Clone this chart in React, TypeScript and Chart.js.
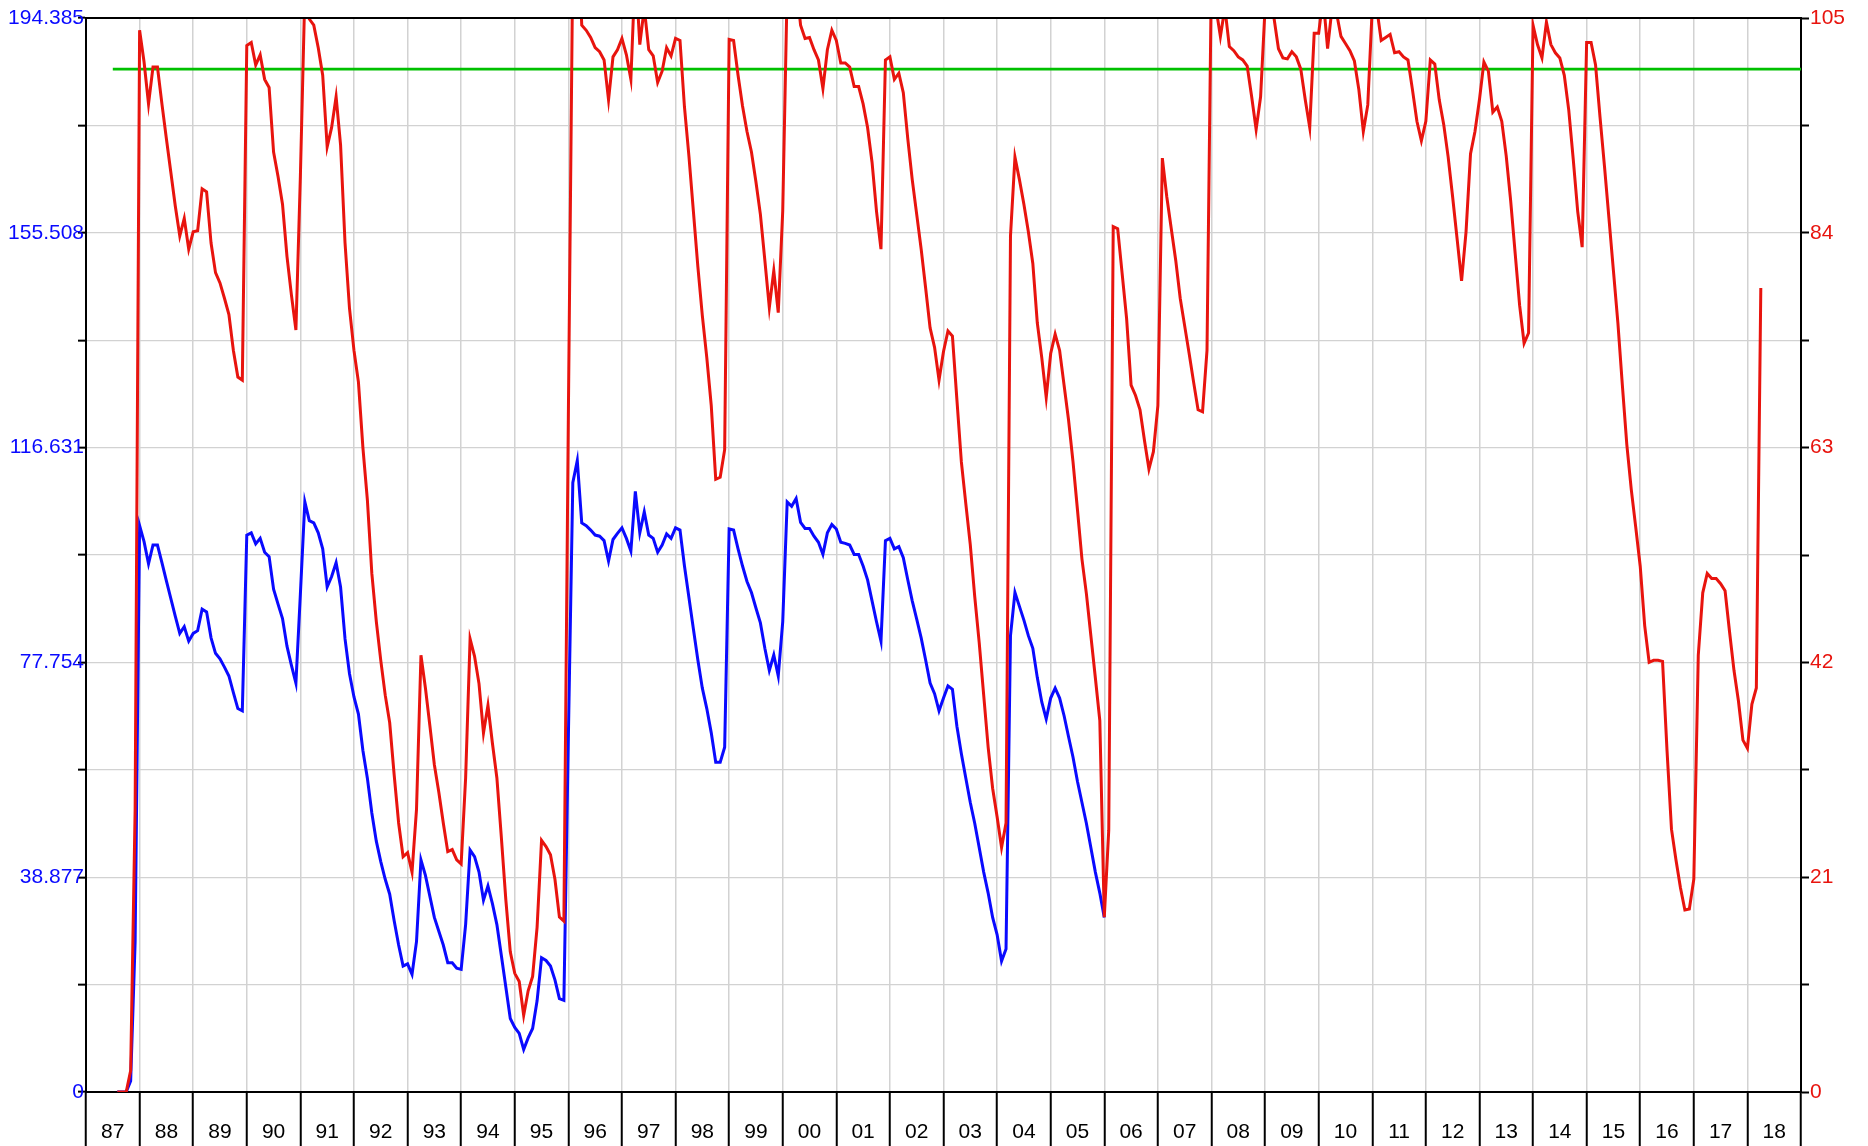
import React, { useEffect, useRef } from 'react';
import { Chart, registerables } from 'chart.js';

Chart.register(...registerables);

// ---------- data ----------
const START_YEAR = 1987;
const START_MONTH = 8; // first monthly value: August 1987

const yearLabels = ['87', '88', '89', '90', '91', '92', '93', '94', '95', '96', '97', '98', '99', '00', '01', '02',
  '03', '04', '05', '06', '07', '08', '09', '10', '11', '12', '13', '14', '15', '16', '17', '18'];
const X_MIN = 1987;
const X_MAX = 2019;

const leftTickLabels = ['0', '38.877', '77.754', '116.631', '155.508', '194.385'];
const rightTickLabels = ['0', '21', '42', '63', '84', '105'];
const LEFT_MAX = 194.385;
const RIGHT_MAX = 105;

const targetLevel = 100;
const targetStart = 1987.5;

// red series (right axis), monthly from Aug 1987
const redValues = [
  0, 0, 0, 2.1, 27.6, 103.8, 100.7, 96.6, 100.2, 100.2,
  96.6, 93.2, 89.9, 86.6,
  83.7, 85.4, 82.4, 84.1, 84.2, 88.3, 88.0, 83.0, 80.1, 79.1, 77.6, 76.0, 72.5, 69.9, 69.6,
  102.3, 102.6, 100.4, 101.4, 99.0, 98.2, 91.9, 89.5, 86.8, 81.7, 77.9, 74.5,
  89.5, 107.5, 104.9, 104.3, 102.1, 99.4, 92.4, 94.3, 97.3, 92.6, 83.0, 76.6,
  72.5, 69.4, 63.0, 57.9, 50.7, 46.0, 42.2, 38.8, 36.1, 31.0, 26.3, 23.0,
  23.4, 21.5, 27.6, 42.7, 39.5, 35.8, 32.0, 29.3, 26.3, 23.5, 23.7, 22.7,
  22.3, 30.7, 44.3, 42.6, 39.9, 35.1, 37.8, 34.1, 30.7, 24.9, 18.8, 13.7,
  11.6, 10.8, 7.5, 9.9, 11.3, 16.1, 24.6, 24.0, 23.2, 20.8, 17.1, 16.7,
  66, 111, 115, 104.3, 103.8, 103.1, 102.1, 101.7, 100.9, 97.0, 101.2, 101.9,
  103.0, 101.4, 99.0, 110, 102.4, 106, 101.9, 101.3, 98.7, 99.8, 102.1, 101.3,
  103.0, 102.8, 96.3, 91.5, 86.1, 80.7, 75.9, 71.8, 67.1, 59.9, 60.1, 62.8,
  102.9, 102.8, 99.4, 96.4, 93.9, 91.9, 89.0, 85.8, 81.3, 76.7, 80.3, 76.2,
  86.1, 108, 107, 108.5, 104.3, 103.0, 103.1, 101.9, 100.9, 98.1, 101.9, 103.8,
  102.8, 100.6, 100.6, 100.2, 98.3, 98.3, 96.6, 94.3, 90.9, 86.1, 82.4, 100.9,
  101.2, 99.0, 99.6, 97.7, 93.2, 89.2, 85.8, 82.4, 78.6, 74.7, 72.8, 69.6,
  72.4, 74.4, 73.9, 67.7, 61.6, 57.5, 53.5, 48.4, 43.9, 38.8, 33.7, 29.7,
  26.9, 23.9, 26.3, 83.7, 91.4, 89.2, 86.8, 84.1, 81.0, 75.2, 71.8, 67.9,
  72.2, 74.1, 72.5, 69.1, 65.7, 61.6, 56.9, 52.1, 48.7, 44.6, 40.5, 36.3,
  17.1, 25.6, 84.6, 84.4, 80.0, 75.6, 69.1, 68.1, 66.7, 63.7, 60.9, 62.6,
  67.1, 91.3, 87.5, 84.4, 81.3, 77.6, 74.9, 72.2, 69.4, 66.7, 66.5, 72.5,
  110, 106, 103.2, 106, 102.2, 101.8, 101.2, 100.9, 100.3, 97.3, 94.1, 97.3,
  106, 107, 105, 102, 101.1, 101.0, 101.7, 101.2, 100.0, 97.0, 94.3, 103.5,
  103.5, 107, 102.0, 106, 105.5, 103.2, 102.5, 101.8, 100.8, 98.0, 93.9, 96.5,
  106, 106, 102.8, 103.1, 103.4, 101.6, 101.7, 101.2, 100.9, 98.0, 94.9, 93.0,
  94.9, 100.9, 100.5, 97.0, 94.6, 91.4, 87.5, 83.4, 79.3, 84.1, 91.7, 93.9,
  97.0, 100.7, 99.8, 95.8, 96.3, 94.9, 91.5, 87.1, 82.0, 76.9, 73.2, 74.2,
  104.3, 102.4, 101.1, 104.6, 102.4, 101.6, 101.1, 99.4, 96.0, 91.2, 86.1, 82.6,
  102.6, 102.6, 100.4, 95.3, 90.5, 85.4, 80.3, 75.2, 69.1, 63.3, 58.9, 55.2,
  51.4, 45.6, 42.0, 42.2, 42.2, 42.1, 33.4, 25.7, 22.7, 20.0, 17.8, 17.9,
  20.8, 42.7, 48.8, 50.7, 50.2, 50.2, 49.7, 49.0, 45.0, 41.2, 38.2, 34.4,
  33.6, 37.9, 39.5, 78.6,
];

// blue series (left axis), monthly from Aug 1987 to Jan 2006
const blueValues = [
  0, 0, 0, 2.0, 27.2, 102.5, 99.6, 95.6, 99.0, 99.0,
  95.8, 92.5, 89.3, 86.1,
  83.0, 84.2, 81.6, 83.0, 83.5, 87.4, 86.9, 82.2, 79.4, 78.4, 76.9, 75.3, 72.3, 69.4, 69.0,
  100.8, 101.2, 99.2, 100.2, 97.7, 96.9, 91.0, 88.3, 85.7, 80.7, 77.2, 74.0,
  90.1, 106.8, 103.4, 103.0, 101.2, 98.3, 91.4, 93.3, 95.8, 91.4, 82.0, 75.7,
  71.5, 68.4, 61.8, 56.8, 50.5, 45.4, 41.7, 38.5, 35.8, 31.0, 26.6, 22.8,
  23.2, 21.3, 27.2, 42.0, 39.2, 35.4, 31.6, 29.1, 26.6, 23.4, 23.4, 22.4,
  22.2, 30.3, 43.8, 42.6, 39.8, 34.7, 37.3, 34.1, 30.3, 24.7, 19.0, 13.3,
  11.7, 10.6, 7.7, 9.8, 11.5, 16.5, 24.3, 23.8, 22.8, 20.3, 16.9, 16.6,
  64, 110.3, 114.3, 103.0, 102.5, 101.7, 100.8, 100.6, 99.8, 96.1, 100.0, 101.1,
  102.1, 100.2, 97.9, 108.7, 101.2, 105.0, 100.8, 100.2, 97.7, 99.0, 101.0, 100.2,
  102.1, 101.7, 95.2, 89.5, 83.8, 78.2, 73.1, 69.4, 65.0, 59.7, 59.7, 62.4,
  101.9, 101.7, 98.3, 95.2, 92.4, 90.4, 87.6, 84.9, 80.3, 76.3, 79.1, 75.3,
  85.1, 106.8, 106.0, 107.4, 103.1, 102.0, 102.0, 100.6, 99.5, 97.3, 101.2, 102.7,
  101.9, 99.5, 99.3, 99.0, 97.3, 97.3, 95.2, 92.7, 88.9, 85.1, 81.6, 99.8,
  100.2, 98.3, 98.7, 96.7, 92.7, 88.9, 85.6, 82.2, 78.2, 74.0, 72.1, 69.0,
  71.3, 73.5, 72.9, 66.2, 61.2, 56.8, 52.4, 48.6, 44.2, 39.8, 36.0, 31.6,
  28.5, 23.7, 25.9, 82.6, 90.4, 87.9, 85.4, 82.6, 80.3, 75.0, 70.6, 67.5,
  71.3, 73.1, 71.3, 68.1, 64.3, 60.6, 56.2, 52.4, 48.6, 44.2, 39.8, 36.0,
  31.6,
];

// ---------- helpers ----------
const monthX = (i: number) => START_YEAR + (START_MONTH - 1 + i) / 12;
const toPoints = (vals: number[]) => vals.map((v, i) => ({ x: monthX(i), y: v }));

const FONT = "'Liberation Sans', Arial, Helvetica, sans-serif";
const GRID = '#d2d2d2';

const topBorder = {
  id: 'topBorder',
  afterDraw(chart: any) {
    const { ctx, chartArea: a } = chart;
    ctx.save();
    ctx.strokeStyle = '#000';
    ctx.lineWidth = 2;
    ctx.beginPath();
    ctx.moveTo(a.left - 1, a.top);
    ctx.lineTo(a.right + 1, a.top);
    ctx.stroke();
    ctx.restore();
  },
};

export default function App() {
  const ref = useRef<HTMLCanvasElement | null>(null);

  useEffect(() => {
    if (!ref.current) return;
    const chart = new Chart(ref.current, {
      type: 'line',
      data: {
        datasets: [
          {
            label: 'red',
            data: toPoints(redValues),
            yAxisID: 'yR',
            borderColor: '#e8140e',
            borderWidth: 3,
            pointRadius: 0,
            tension: 0,
            fill: false,
            order: 1,
          },
          {
            label: 'blue',
            data: toPoints(blueValues),
            yAxisID: 'yL',
            borderColor: '#0a0aff',
            borderWidth: 3,
            pointRadius: 0,
            tension: 0,
            fill: false,
            order: 2,
          },
          {
            label: 'level',
            data: [
              { x: targetStart, y: targetLevel },
              { x: X_MAX, y: targetLevel },
            ],
            yAxisID: 'yR',
            borderColor: '#00c000',
            borderWidth: 2.6,
            pointRadius: 0,
            fill: false,
            order: 3,
          },
        ],
      },
      options: {
        animation: false,
        responsive: false,
        devicePixelRatio: 1,
        events: [],
        layout: { padding: { top: 18, left: 0, right: 0, bottom: 0 } },
        plugins: {
          legend: { display: false },
          tooltip: { enabled: false },
          title: { display: false },
        },
        scales: {
          x: {
            type: 'linear',
            position: 'bottom',
            min: X_MIN,
            max: X_MAX,
            afterBuildTicks: (s: any) => {
              s.ticks = Array.from({ length: X_MAX - X_MIN + 1 }, (_, i) => ({ value: X_MIN + i }));
            },
            afterFit: (s: any) => {
              s.height = 54;
            },
            ticks: {
              autoSkip: false,
              maxRotation: 0,
              minRotation: 0,
              labelOffset: 26.8,
              padding: -26,
              color: '#000',
              font: { family: FONT, size: 21 },
              callback: (_v: any, i: number) => yearLabels[i] ?? '',
            },
            grid: {
              color: GRID,
              lineWidth: 1.5,
              tickColor: '#000',
              tickLength: 54,
              tickWidth: 2,
              drawOnChartArea: true,
            },
            border: { display: true, color: '#000', width: 2 },
          },
          yL: {
            type: 'linear',
            position: 'left',
            min: 0,
            max: LEFT_MAX,
            afterBuildTicks: (s: any) => {
              s.ticks = Array.from({ length: 11 }, (_, i) => ({ value: (LEFT_MAX / 10) * i }));
            },
            afterFit: (s: any) => {
              s.width = 86;
            },
            ticks: {
              autoSkip: false,
              padding: -6,
              color: '#0a0aff',
              font: { family: FONT, size: 21 },
              callback: (_v: any, i: number) => (i % 2 === 0 ? leftTickLabels[i / 2] : ''),
            },
            grid: {
              color: GRID,
              lineWidth: 1.3,
              tickColor: '#000',
              tickLength: 8,
              tickWidth: 2,
            },
            border: { display: true, color: '#000', width: 2 },
          },
          yR: {
            type: 'linear',
            position: 'right',
            min: 0,
            max: RIGHT_MAX,
            afterBuildTicks: (s: any) => {
              s.ticks = Array.from({ length: 11 }, (_, i) => ({ value: (RIGHT_MAX / 10) * i }));
            },
            afterFit: (s: any) => {
              s.width = 67;
            },
            ticks: {
              autoSkip: false,
              padding: 1,
              color: '#e8140e',
              font: { family: FONT, size: 21 },
              callback: (_v: any, i: number) => (i % 2 === 0 ? rightTickLabels[i / 2] : ''),
            },
            grid: {
              drawOnChartArea: false,
              tickColor: '#000',
              tickLength: 8,
              tickWidth: 2,
            },
            border: { display: true, color: '#000', width: 2 },
          },
        },
      },
      plugins: [topBorder],
    } as any);
    return () => chart.destroy();
  }, []);

  return (
    <div style={{ position: 'absolute', left: 0, top: 0, width: 1868, height: 1146, background: '#fff' }}>
      <canvas ref={ref} width={1868} height={1146} style={{ display: 'block', width: 1868, height: 1146 }} />
    </div>
  );
}
